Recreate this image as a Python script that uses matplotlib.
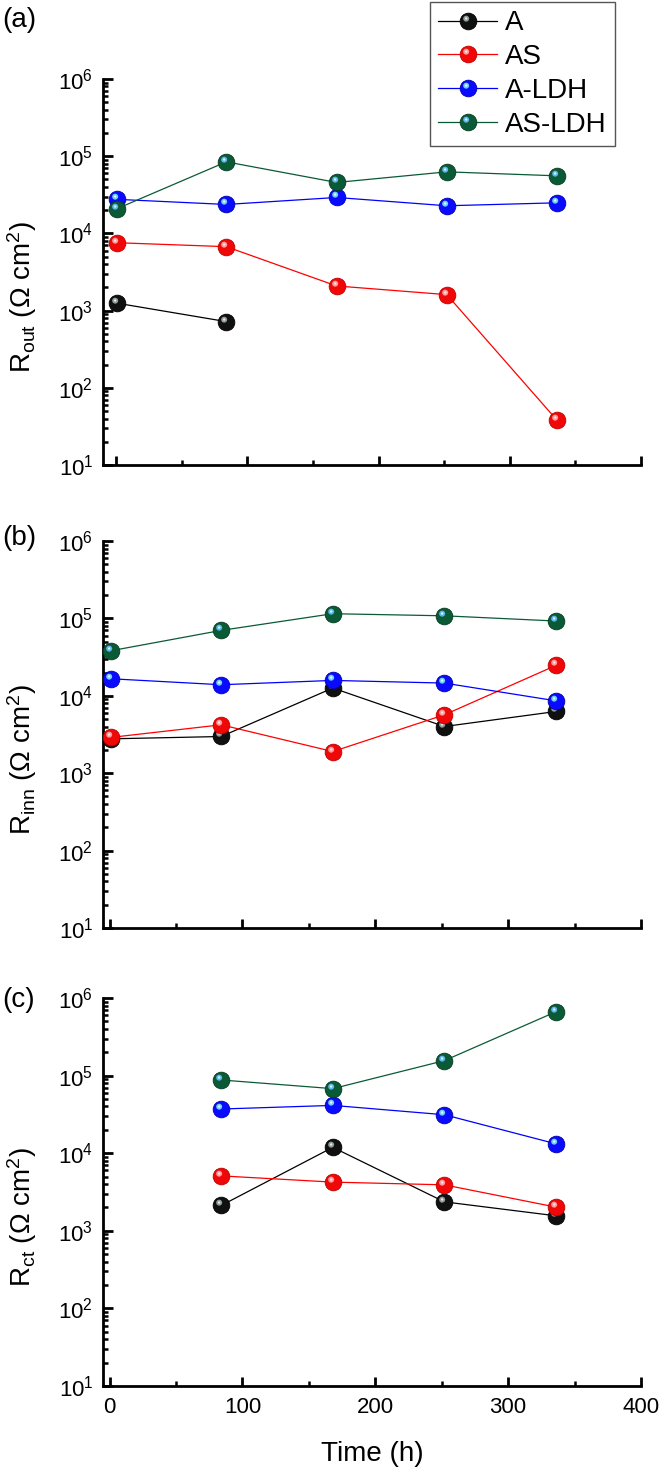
import numpy as np
import matplotlib
matplotlib.use("Agg")
import matplotlib.pyplot as plt
from matplotlib.path import Path
from matplotlib.legend_handler import HandlerTuple
from matplotlib.ticker import LogLocator, MultipleLocator, NullFormatter

plt.rcParams['font.family'] = ['Liberation Sans', 'DejaVu Sans']
plt.rcParams['mathtext.fontset'] = 'custom'
plt.rcParams['mathtext.rm'] = 'Liberation Sans'
plt.rcParams['mathtext.it'] = 'Liberation Sans:italic'
plt.rcParams['mathtext.bf'] = 'Liberation Sans:bold'

# ---------------- data ----------------
series_names = ["A", "AS", "A-LDH", "AS-LDH"]
time_ab = [1, 84, 168, 252, 336]
time_c = [84, 168, 252, 336]

# panel (a) R_out
a_time_A = [1, 84]
a_A = [1245, 720]
a_AS = [7570, 6730, 2085, 1610, 38]
a_ALDH = [27600, 23700, 29200, 22800, 24900]
a_ASLDH = [21000, 84500, 45700, 62700, 55700]

# panel (b) R_inn
b_A = [2780, 2980, 12600, 4010, 6270]
b_AS = [2900, 4220, 1905, 5680, 24700]
b_ALDH = [16600, 13900, 15800, 14600, 8610]
b_ASLDH = [38200, 70000, 115000, 108000, 92500]

# panel (c) R_ct
c_A = [2120, 11900, 2360, 1560]
c_AS = [5100, 4240, 3910, 2020]
c_ALDH = [37100, 41300, 31300, 13200]
c_ASLDH = [87800, 67900, 156000, 665000]

ylabels = [r"$\mathrm{R_{out}}$ ($\Omega$ cm$^{2}$)",
           r"$\mathrm{R_{inn}}$ ($\Omega$ cm$^{2}$)",
           r"$\mathrm{R_{ct}}$ ($\Omega$ cm$^{2}$)"]
panel_tags = ["(a)", "(b)", "(c)"]
xticks = [0, 100, 200, 300, 400]

# ---------------- styles ----------------
face = {"A": "#101010", "AS": "#f00808", "A-LDH": "#0a0aff", "AS-LDH": "#0b5a36"}
edge = {"A": "#000000", "AS": "#c00000", "A-LDH": "#0000b0", "AS-LDH": "#063a22"}
linec = {"A": "#000000", "AS": "#ff0000", "A-LDH": "#0000ff", "AS-LDH": "#0b5a36"}
spotc = {"A": "#8f9c9c", "AS": "#ff9c9c", "A-LDH": "#6fd0f4", "AS-LDH": "#5fb6ee"}
corec = {"A": "#e8eeee", "AS": "#ffe8e8", "A-LDH": "#e8fbff", "AS-LDH": "#e0f4ff"}


def spot_path(cx, cy, r):
    c = Path.circle((cx, cy), r)
    verts = np.vstack([[1.0, 1.0], [-1.0, -1.0], c.vertices])
    codes = np.concatenate([[Path.MOVETO, Path.MOVETO], c.codes])
    return Path(verts, codes)


SPOT = spot_path(-0.28, 0.34, 0.36)
CORE = spot_path(-0.28, 0.36, 0.14)
MS = 12

W, H = 661, 1472
fig = plt.figure(figsize=(W / 100, H / 100), dpi=100)

panels = [
    (79, 465, -10, [(a_time_A, a_A), (time_ab, a_AS), (time_ab, a_ALDH), (time_ab, a_ASLDH)]),
    (541, 928, -5, [(time_ab, b_A), (time_ab, b_AS), (time_ab, b_ALDH), (time_ab, b_ASLDH)]),
    (998, 1386, -5, [(time_c, c_A), (time_c, c_AS), (time_c, c_ALDH), (time_c, c_ASLDH)]),
]

legend_handles = []
for pi, (top, bot, xmin, data) in enumerate(panels):
    ax = fig.add_axes([103 / W, 1 - bot / H, 538 / W, (bot - top) / H])
    for si, (name, (xs, ys)) in enumerate(zip(series_names, data)):
        l, = ax.plot(xs, ys, '-', color=linec[name], lw=0.9, marker='o', ms=MS,
                     mfc=face[name], mec=edge[name], mew=0.6, zorder=3 + 3 * si)
        h1, = ax.plot(xs, ys, linestyle='none', marker=SPOT, ms=MS, mfc=spotc[name],
                      mew=0, zorder=4 + 3 * si)
        h2, = ax.plot(xs, ys, linestyle='none', marker=CORE, ms=MS, mfc=corec[name],
                      mew=0, zorder=5 + 3 * si)
        if pi == 0:
            legend_handles.append((l, h1, h2))
    ax.set_yscale('log')
    ax.set_ylim(10, 1e6)
    ax.set_xlim(xmin, 400)
    ax.set_xticks(xticks)
    ax.xaxis.set_minor_locator(MultipleLocator(50))
    ax.yaxis.set_major_locator(LogLocator(base=10, numticks=10))
    ax.yaxis.set_minor_locator(LogLocator(base=10, subs=np.arange(2, 10), numticks=20))
    ax.yaxis.set_minor_formatter(NullFormatter())
    for s in ['top', 'right']:
        ax.spines[s].set_visible(False)
    for s in ['left', 'bottom']:
        ax.spines[s].set_linewidth(2.0)
    ax.tick_params(axis='both', which='major', direction='in', width=2.0, labelsize=16)
    ax.tick_params(axis='y', which='major', length=7.5, pad=7)
    ax.tick_params(axis='x', which='major', length=6.5, pad=8)
    ax.tick_params(axis='both', which='minor', direction='in', width=1.8, length=3.8)
    if pi < 2:
        ax.tick_params(axis='x', labelbottom=False)
    # y label and panel tag
    fig.text(22 / W, 1 - ((top + bot) / 2 + 25) / H, ylabels[pi], rotation=90,
             ha='center', va='center', fontsize=20)
    tag_y = [20, 538, 1000][pi]
    fig.text(19 / W, 1 - tag_y / H, panel_tags[pi], ha='center', va='center', fontsize=20)

fig.text(372 / W, 1 - 1454 / H, "Time (h)", ha='center', va='center', fontsize=20)

leg = fig.legend(legend_handles, series_names, loc='upper left',
                 bbox_to_anchor=(430 / W, 1 - 2 / H), bbox_transform=fig.transFigure,
                 handler_map={tuple: HandlerTuple(ndivide=1, pad=0)},
                 fontsize=20, frameon=True, fancybox=False, framealpha=1,
                 edgecolor='#555555', borderpad=0.3, borderaxespad=0,
                 handlelength=2.1, handletextpad=0.3, labelspacing=0.28, numpoints=1)
leg.get_frame().set_linewidth(1.0)

fig.savefig("out.png", dpi=100)
